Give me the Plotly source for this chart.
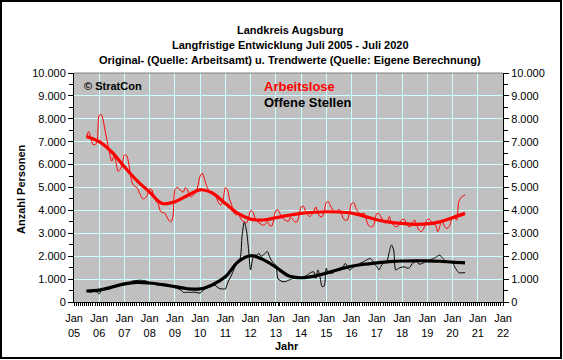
import pandas as pd
import plotly.graph_objects as go

# ---------------- data ----------------
months = pd.date_range("2005-07-01", "2020-07-01", freq="MS")

arbeitslose = [
    7220, 7440, 7180, 6880, 6870, 7000,
    8150, 8180, 7900, 7400, 6950, 6500, 6150, 6350, 6100, 5700, 5800, 6000,
    6420, 6400, 6100, 5500, 5150, 5050, 5000, 4800, 4600, 4500, 4550, 4700,
    4950, 4900, 4600, 4400, 4300, 4000, 3900, 3900, 3750, 3580, 3500, 3700,
    4900, 5000, 4950, 4850, 4800, 5000, 4900, 4650, 4600, 4700, 4800, 5100,
    5500, 5620, 5400, 5100, 4900, 4750, 4800, 4700, 4500, 4300, 4250, 4500,
    5000, 4900, 4500, 4250, 3900, 3800, 3850, 3700, 3550, 3500, 3450, 3650,
    3990, 3950, 3700, 3550, 3450, 3400, 3350, 3400, 3500, 3350, 3320, 3600,
    4000, 4020, 3850, 3720, 3600, 3550, 3520, 3700, 3600, 3500, 3500, 3750,
    4150, 4190, 4000, 3850, 3730, 3800, 3950, 4150, 3900, 3730, 3730, 3950,
    4350, 4380, 4200, 4050, 3950, 3950, 4050, 3950, 3650, 3580, 3580, 3900,
    4300, 4340, 4130, 3950, 3870, 3850, 3880, 3600, 3350, 3290, 3290, 3500,
    3870, 3850, 3730, 3550, 3440, 3500, 3730, 3440, 3350, 3290, 3300, 3450,
    3600, 3610, 3450, 3300, 3290, 3450, 3580, 3350, 3150, 3070, 3150, 3400,
    3600, 3610, 3500, 3400, 3360, 3070, 3300, 3580, 3350, 3220, 3250, 3400,
    3730, 3700, 3580, 4380, 4550, 4630, 4670,
]

offene_stellen = [
    480, 450, 430, 460, 460, 430,
    350, 520, 540, 560, 570, 570, 620, 670, 720, 740, 740, 730,
    740, 780, 820, 880, 920, 930, 940, 950, 950, 940, 930, 880,
    820, 830, 800, 760, 740, 740, 740, 740, 730, 700, 670, 650,
    620, 600, 560, 520, 420, 420, 420, 420, 420, 430, 420, 400,
    390, 480, 540, 600, 640, 670, 700, 740, 670, 600, 570, 570,
    570, 820, 1000, 1180, 1400, 1620, 1800, 1900, 2930, 3480, 3140, 2340,
    1400, 1900, 2050, 2050, 2130, 2000, 2050, 2130, 2200, 1980, 1800, 1700,
    1600, 1000, 950, 890, 890, 900, 950, 980, 1030, 1020, 1030, 1030,
    1030, 1080, 1130, 1180, 1250, 1300, 1320, 1030, 1400, 1100, 670, 700,
    1470, 1250, 1250, 1250, 1330, 1400, 1450, 1500, 1540, 1690, 1550, 1400,
    1450, 1540, 1580, 1620, 1690, 1720, 1770, 1830, 1870, 1900, 1800, 1650,
    1540, 1400, 1550, 1690, 1760, 1830, 2200, 2490, 2270, 1400, 1450, 1500,
    1520, 1540, 1500, 1470, 1540, 1690, 1750, 1830, 1660, 1660, 1700, 1760,
    1780, 1820, 1860, 1900, 1950, 2010, 2050, 1950, 1850, 1760, 1740, 1720,
    1720, 1540, 1400, 1280, 1270, 1280, 1280,
]

trend_dates = pd.date_range("2005-07-01", "2020-07-01", freq="6MS")

trend_arbeitslose = [
    7230, 7000, 6550, 5900, 5300, 4800, 4300, 4380, 4650, 4900,
    4750, 4300, 3870, 3620, 3580, 3680, 3780, 3870, 3920, 3940,
    3930, 3880, 3750, 3590, 3490, 3430, 3390, 3410, 3500, 3680, 3870,
]

trend_offene_stellen = [
    480, 520, 650, 790, 860, 830, 760, 670, 580, 570,
    760, 1100, 1750, 2020, 1850, 1520, 1150, 1060, 1120, 1260,
    1420, 1560, 1650, 1710, 1760, 1790, 1800, 1800, 1780, 1740, 1710,
]

tick_years = list(range(2005, 2023))
tick_vals = [f"{y}-01-01" for y in tick_years]
tick_text = [f"Jan<br>{y % 100:02d}" for y in tick_years]

title_lines = [
    "Landkreis Augsburg",
    "Langfristige Entwicklung Juli 2005 - Juli 2020",
    "Original- (Quelle: Arbeitsamt) u. Trendwerte (Quelle: Eigene Berechnung)",
]

# ---------------- layout helpers ----------------
W, H = 563, 360
L, R, T, B = 74, 503, 73, 302


def px(x):
    return (x - L) / (R - L)


def py(y):
    return (B - y) / (B - T)


FONT = "Liberation Sans, Arial, sans-serif"

fig = go.Figure()
fig.add_trace(go.Scatter(x=months, y=arbeitslose, mode="lines",
                         line=dict(color="#ff0000", width=1, shape="spline", smoothing=0.8),
                         showlegend=False, hoverinfo="skip"))
fig.add_trace(go.Scatter(x=trend_dates, y=trend_arbeitslose, mode="lines",
                         line=dict(color="#ff0000", width=3.2, shape="spline", smoothing=1),
                         showlegend=False, hoverinfo="skip"))
fig.add_trace(go.Scatter(x=months, y=offene_stellen, mode="lines",
                         line=dict(color="#000000", width=1, shape="spline", smoothing=0.8),
                         showlegend=False, hoverinfo="skip"))
fig.add_trace(go.Scatter(x=trend_dates, y=trend_offene_stellen, mode="lines",
                         line=dict(color="#000000", width=3.2, shape="spline", smoothing=1),
                         showlegend=False, hoverinfo="skip"))
# invisible trace to carry the right-hand axis
fig.add_trace(go.Scatter(x=[months[0]], y=[0], yaxis="y2", mode="markers",
                         marker=dict(opacity=0), showlegend=False, hoverinfo="skip"))

grid = "#ccffff"
yax = dict(range=[0, 10000], dtick=1000, tick0=0, tickformat=",d",
           showgrid=True, gridcolor=grid, gridwidth=1, zeroline=False,
           ticks="outside", ticklen=5, tickcolor="black", tickwidth=1,
           minor=dict(dtick=500, ticks="outside", ticklen=4, tickcolor="black", showgrid=False),
           showline=True, linecolor="black", linewidth=1,
           tickfont=dict(family=FONT, size=11, color="black"), fixedrange=True)

fig.update_layout(
    width=W, height=H,
    margin=dict(l=L, r=W - R, t=T, b=H - B),
    paper_bgcolor="white", plot_bgcolor="#c0c0c0",
    separators=",.",
    font=dict(family=FONT, size=11, color="black"),
    xaxis=dict(type="date", range=["2005-01-01", "2022-01-01"],
               tickmode="array", tickvals=tick_vals, ticktext=tick_text,
               showgrid=True, gridcolor=grid, gridwidth=1,
               ticks="outside", ticklen=3, tickcolor="black", ticklabelstandoff=3,
               minor=dict(dtick="M1", tick0="2005-01-01", ticks="outside", ticklen=3,
                          tickcolor="black", showgrid=False),
               showline=True, linecolor="black", linewidth=1,
               tickfont=dict(family=FONT, size=11, color="black"), fixedrange=True),
    yaxis=yax,
    yaxis2=dict(yax, overlaying="y", side="right", showgrid=False),
)

# plot-area top border (grey)
fig.add_shape(type="line", xref="paper", yref="paper", x0=0, x1=1, y0=1, y1=1,
              line=dict(color="#808080", width=1))
# outer frame
fig.add_shape(type="rect", xref="paper", yref="paper",
              x0=px(1), x1=px(561), y0=py(1), y1=py(358),
              line=dict(color="black", width=2))

ann = []
for txt, y in zip(title_lines, [30, 45, 60]):
    ann.append(dict(text=f"<b>{txt}</b>", x=px(290), y=py(y), xref="paper", yref="paper",
                    xanchor="center", yanchor="middle", showarrow=False,
                    font=dict(family=FONT, size=11, color="black")))
ann.append(dict(text="<b>Anzahl Personen</b>", x=px(21), y=py(189), xref="paper", yref="paper",
                textangle=-90, xanchor="center", yanchor="middle", showarrow=False,
                font=dict(family=FONT, size=11, color="black")))
ann.append(dict(text="<b>Jahr</b>", x=px(287), y=py(346), xref="paper", yref="paper",
                xanchor="center", yanchor="middle", showarrow=False,
                font=dict(family=FONT, size=11, color="black")))
ann.append(dict(text="<b>© StratCon</b>", x=px(82), y=py(86), xref="paper", yref="paper",
                xanchor="left", yanchor="middle", showarrow=False,
                font=dict(family=FONT, size=11, color="black")))
ann.append(dict(text="<b>Arbeitslose</b>", x=px(262), y=py(86), xref="paper", yref="paper",
                xanchor="left", yanchor="middle", showarrow=False,
                font=dict(family=FONT, size=13, color="#ff0000")))
ann.append(dict(text="<b>Offene Stellen</b>", x=px(262), y=py(102), xref="paper", yref="paper",
                xanchor="left", yanchor="middle", showarrow=False,
                font=dict(family=FONT, size=13, color="black")))
fig.update_layout(annotations=ann)

fig.write_html("out.html", config={"displayModeBar": False})

# remove the browser's default page margin so the figure sits at (0,0)
with open("out.html", "r", encoding="utf-8") as f:
    html = f.read()
html = html.replace("<head>", "<head><style>html,body{margin:0;padding:0;overflow:hidden;}</style>", 1)
with open("out.html", "w", encoding="utf-8") as f:
    f.write(html)
